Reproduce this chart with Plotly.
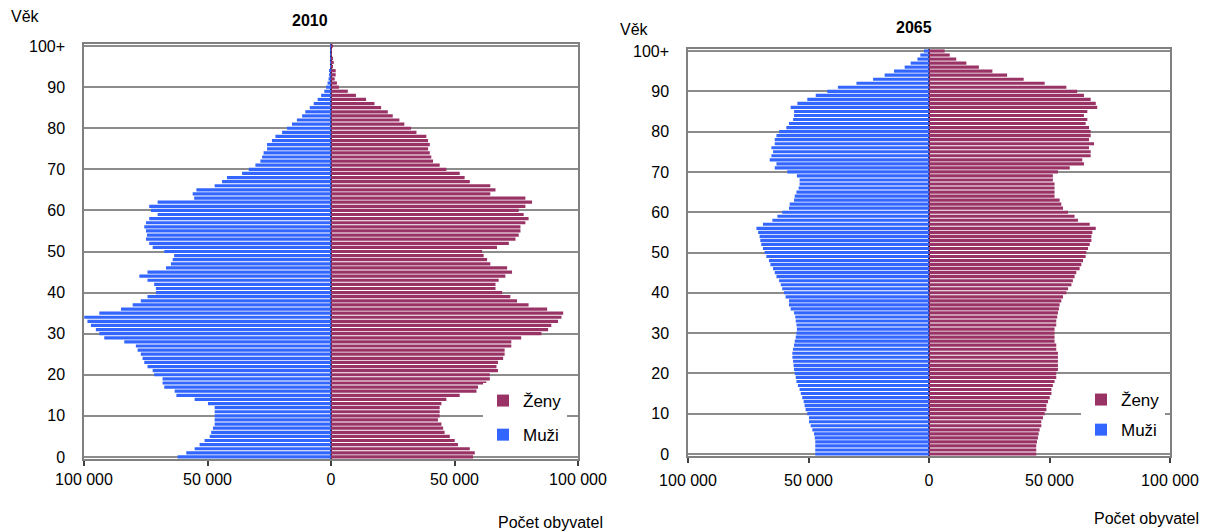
import plotly.graph_objects as go

ages = list(range(101))
age_ticks = [0, 10, 20, 30, 40, 50, 60, 70, 80, 90, 100]
age_tick_labels = ["0", "10", "20", "30", "40", "50", "60", "70", "80", "90", "100+"]
pop_ticks = [-100000, -50000, 0, 50000, 100000]
pop_tick_labels = ["100 000", "50 000", "0", "50 000", "100 000"]

# population in thousands, ages 0..100+
men_2010 = [62.1, 58.6, 55.2, 53.2, 51.2, 49.1, 48.5, 47.8, 47.1, 47.1,
            47.1, 47.1, 47.1, 49.8, 55.2, 62.6, 63.3, 67.5, 68.2, 68.2,
            71.6, 72.2, 74.3, 75.6, 76.3, 77.0, 78.3, 79.0, 83.7, 91.8,
            93.8, 95.2, 97.2, 98.6, 99.9, 93.8, 85.0, 80.3, 77.0, 74.3,
            70.9, 70.9, 71.6, 74.3, 77.6, 74.3, 66.8, 64.8, 64.1, 63.5,
            67.5, 72.2, 73.6, 74.9, 74.5, 74.9, 75.6, 74.9, 73.6, 70.2,
            72.9, 73.6, 70.2, 55.4, 56.0, 54.5, 47.1, 44.1, 42.1, 36.0,
            33.3, 30.6, 28.6, 27.9, 27.3, 25.9, 25.9, 23.9, 22.5, 19.8,
            17.8, 15.8, 13.8, 11.7, 10.4, 8.6, 7.0, 5.4, 4.0, 2.7,
            2.0, 1.4, 1.0, 0.7, 0.5, 0.4, 0.3, 0.2, 0.15, 0.1, 0.3]
women_2010 = [57.5, 58.2, 56.2, 51.4, 50.1, 48.1, 46.0, 45.4, 44.7, 43.3,
              44.0, 44.0, 44.0, 44.7, 46.7, 52.1, 58.9, 59.5, 62.9, 64.3,
              64.3, 67.6, 67.0, 67.6, 69.7, 70.3, 70.3, 73.0, 73.0, 77.0,
              85.2, 87.9, 89.2, 91.9, 93.3, 94.0, 87.5, 80.0, 75.3, 72.6,
              69.3, 66.6, 66.6, 67.9, 70.6, 73.3, 71.3, 64.5, 63.2, 61.8,
              61.2, 67.2, 72.0, 74.7, 76.0, 76.7, 76.7, 78.7, 80.0, 78.0,
              76.0, 78.7, 81.4, 78.7, 64.5, 66.6, 64.5, 56.2, 54.1, 52.1,
              46.7, 44.0, 41.3, 40.6, 40.0, 39.3, 40.0, 39.3, 38.6, 34.6,
              32.4, 29.7, 27.7, 25.0, 23.0, 20.3, 17.6, 14.2, 10.1, 6.8,
              3.2, 2.4, 1.5, 1.9, 1.9, 0.8, 1.1, 0.6, 0.4, 0.3, 0.5]
men_2065 = [47.2, 47.2, 47.2, 47.2, 47.4, 47.7, 48.4, 49.1, 49.8, 49.8,
            50.5, 51.2, 51.6, 52.0, 52.6, 53.2, 53.7, 54.4, 55.0, 55.3,
            55.7, 56.0, 56.2, 56.4, 56.7, 56.7, 56.4, 56.0, 55.7, 55.3,
            55.0, 54.8, 55.0, 55.3, 55.5, 56.0, 57.4, 58.1, 58.1, 59.5,
            60.2, 60.9, 61.5, 62.2, 63.3, 64.0, 64.7, 65.8, 66.4, 67.5,
            68.2, 68.9, 69.6, 70.0, 70.3, 70.9, 71.6, 68.9, 65.0, 62.9,
            60.9, 58.1, 57.8, 56.0, 55.7, 55.0, 54.1, 53.7, 53.7, 54.8,
            58.8, 64.0, 63.3, 66.1, 65.4, 64.7, 65.4, 64.0, 64.0, 63.3,
            62.2, 59.2, 58.1, 56.4, 56.0, 56.0, 57.4, 54.6, 50.5, 47.0,
            42.2, 37.8, 30.1, 23.2, 18.4, 14.5, 10.1, 7.6, 4.8, 3.6, 2.1]
women_2065 = [44.5, 44.5, 44.5, 44.8, 45.2, 45.5, 45.9, 46.6, 46.6, 47.3,
              48.0, 48.7, 48.7, 49.4, 50.1, 50.8, 50.8, 51.4, 52.1, 52.8,
              52.8, 53.5, 53.5, 53.5, 53.5, 53.5, 52.8, 52.8, 52.1, 52.1,
              52.1, 52.1, 52.8, 52.8, 53.2, 53.5, 53.9, 54.2, 54.9, 55.6,
              57.0, 57.7, 59.1, 59.7, 60.4, 61.1, 62.5, 63.2, 63.9, 65.0,
              65.3, 66.0, 66.7, 67.4, 67.4, 67.8, 69.2, 66.7, 61.8, 60.4,
              57.7, 55.6, 54.9, 54.2, 52.1, 52.1, 52.1, 52.1, 51.4, 51.4,
              53.5, 58.4, 64.3, 63.6, 67.1, 67.1, 66.4, 68.5, 66.4, 67.1,
              67.1, 66.4, 65.0, 65.7, 64.3, 65.7, 69.8, 69.2, 67.1, 64.3,
              61.5, 57.0, 48.0, 39.3, 32.4, 26.3, 20.7, 15.5, 11.3, 8.6, 6.5]

BLUE = "rgb(51,102,255)"
MAROON = "rgb(153,51,102)"
FONT = "Liberation Sans, Arial, sans-serif"
W, H = 1205, 532

fig = go.Figure()

def add_pair(men, women, xa, ya, leg):
    fig.add_trace(go.Bar(y=ages, x=[v * 1000 for v in women], orientation="h",
                         marker=dict(color=MAROON, line=dict(width=0)), name="Ženy",
                         xaxis=xa, yaxis=ya, legend=leg, legendgroup="f" + leg,
                         hoverinfo="skip"))
    fig.add_trace(go.Bar(y=ages, x=[-v * 1000 for v in men], orientation="h",
                         marker=dict(color=BLUE, line=dict(width=0)), name="Muži",
                         xaxis=xa, yaxis=ya, legend=leg, legendgroup="m" + leg,
                         hoverinfo="skip"))

add_pair(men_2010, women_2010, "x", "y", "legend")
add_pair(men_2065, women_2065, "x2", "y2", "legend2")

def xax(domain, anchor, standoff):
    return dict(domain=domain, anchor=anchor, range=[-100000, 100000],
                tickvals=pop_ticks, ticktext=pop_tick_labels, ticks="outside",
                ticklen=5, tickcolor="#404040", tickwidth=1.5,
                showline=True, linecolor="#808080", linewidth=1.5, mirror=True,
                showgrid=False, zeroline=True, zerolinecolor="#262640",
                zerolinewidth=1.5, ticklabelstandoff=standoff, automargin=False,
                tickfont=dict(size=16, color="#000000", family=FONT), fixedrange=True)

def yax(domain, anchor):
    return dict(domain=domain, anchor=anchor, range=[-0.5, 100.5],
                tickvals=age_ticks, ticktext=age_tick_labels, ticks="",
                showgrid=True, gridcolor="#8c8c8c", gridwidth=1.5,
                showline=True, linecolor="#808080", linewidth=1.5, mirror=True,
                zeroline=False, ticklabelstandoff=14, automargin=False,
                tickfont=dict(size=16, color="#000000", family=FONT), fixedrange=True)

fig.update_layout(
    width=W, height=H,
    margin=dict(l=0, r=0, t=0, b=0, autoexpand=False),
    paper_bgcolor="white", plot_bgcolor="white",
    barmode="relative", bargap=0.22,
    font=dict(family=FONT, size=16, color="#000000"),
    xaxis=xax([84 / W, 578 / W], "y", 0),
    yaxis=yax([1 - 459 / H, 1 - 44 / H], "x"),
    xaxis2=xax([688 / W, 1170 / W], "y2", 4),
    yaxis2=yax([1 - 456 / H, 1 - 49 / H], "x2"),
    legend=dict(x=483 / W, y=1 - 383 / H, xanchor="left", yanchor="top",
                bgcolor="white", borderwidth=0, traceorder="grouped",
                tracegroupgap=9, font=dict(size=17, family=FONT)),
    legend2=dict(x=1081 / W, y=1 - 382 / H, xanchor="left", yanchor="top",
                 bgcolor="white", borderwidth=0, traceorder="grouped",
                 tracegroupgap=5, font=dict(size=17, family=FONT)),
    showlegend=True,
)

def ann(text, px, py, size=16, bold=False, xanchor="center"):
    fig.add_annotation(text=("<b>%s</b>" % text) if bold else text,
                       x=px / W, y=1 - py / H, xref="paper", yref="paper",
                       xanchor=xanchor, yanchor="middle", showarrow=False,
                       font=dict(size=size, family=FONT, color="#000000"))

ann("2010", 310, 20, 16, True)
ann("2065", 914, 28, 16, True)
ann("Věk", 25, 17, 16)
ann("Věk", 634, 30, 16)
ann("Počet obyvatel", 550, 522, 16)
ann("Počet obyvatel", 1146, 518, 16)

fig.write_html(
    "out.html",
    config={"displayModeBar": False},
    post_script="document.body.style.margin='0';document.body.style.padding='0';"
                "document.body.style.overflow='hidden';",
)
